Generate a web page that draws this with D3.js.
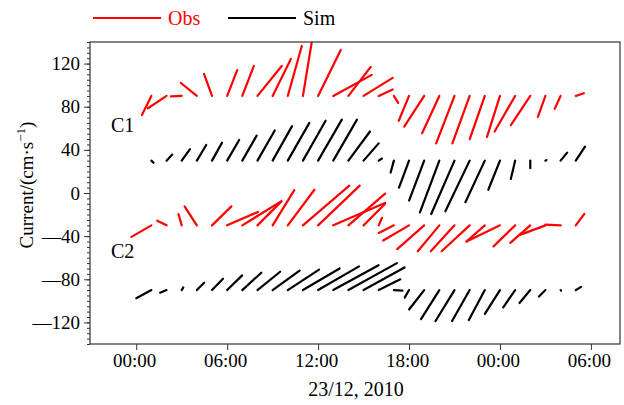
<!DOCTYPE html>
<html>
<head>
<meta charset="utf-8">
<script src="https://cdn.jsdelivr.net/npm/d3@7"></script>
<style>
  body { margin: 0; background: #fff; }
  svg { display: block; }
  text { font-family: "Liberation Serif", "Times New Roman", serif; }
</style>
</head>
<body>
<svg id="chart" width="624" height="405"></svg>
<script>
// Hourly current vectors (u east, v north, cm/s) at two stations, observed vs simulated.
// Time is hours after 00:00 on 23/12/2010.
const obsC1Hours = d3.range(1, 30);
const obsC1U = [-8.8, -17.2, -10, -14.8, -7.4, 9.3, 10.7, 22.5, 16.9, 13, 9, 21, 35.7, 20.7, 27, 13, 4, -9.5, -18.5, -16, -17, -16, -14, -12, -19, -18, -7, -5.5, 7.5];
const obsC1V = [-17.6, -11.4, -0.5, 12, 20.4, 24, 27.8, 27.8, 34.3, 46.3, 55, 42.6, 19.5, 26.9, 16.7, 6, -6.5, -23, -28.4, -34.6, -44, -44, -40, -38, -33, -27, -19.5, -12, 2.5];

const simC1Hours = d3.range(1, 30);
const simC1U = [2, 5.3, 7.7, 8.7, 9.3, 11.1, 13.3, 16, 18, 20, 21, 22, 22, 20, 14, 3, -3, -9.3, -14, -18, -21.6, -22.5, -18, -10.8, -4, 0, 1, 6.1, 8.6];
const simC1V = [-2, 5.6, 10.6, 14.5, 16.7, 19.2, 23.2, 28, 32, 35, 37, 38, 38, 27, 16, 2, -11, -25, -37, -48, -49.5, -47, -38.5, -27, -17, -7, 0.5, 7.4, 13];

const obsC2Hours = d3.range(1, 30);
const obsC2U = [-18.5, -8.6, -3, -11.4, 18, 28.5, 36.3, 22, 20.1, 24.7, 43, 38.6, 47.9, 34, 20, 3, -14, -24, -25, -20, -22, -26, -17, -31, -20, -18.5, -23, -14, 8];
const obsC2V = [-10.7, 4.3, 10.5, 17.6, 17.6, 12.4, 22.5, 22, 32.7, 33, 36.8, 36.8, 20.8, 29.4, 20, 7, -7, -14, -22, -24, -24, -24, -15, -15, -19.5, -16.3, -8.6, 0.6, 10.6];

const simC2Hours = d3.range(1, 30);
const simC2U = [-14, -6, 1.5, 6.8, 10.2, 13.9, 17.6, 21, 25, 29, 34, 38, 42, 45, 38, 20, 8, -4, -14, -17, -17.6, -16.3, -14.8, -14, -11, -10, -6, 0.5, 5];
const simC2V = [-7.5, -2.4, 2.5, 6.8, 10.5, 13.6, 16.1, 17, 18, 19, 20, 22, 23, 25, 21, 10, -0.5, -7, -18, -27, -28.7, -28.7, -27.8, -22, -16, -12, -6, -0.5, 3];

// Vertical offset (cm/s) used as the base line of each stick row
const rowOffsets = [90, 30, -30, -90];
const rowNames = ["C1", "C2"];

const yTicks = [-120, -80, -40, 0, 40, 80, 120];
const xTicks = [0, 6, 12, 18, 24, 30];
const xTickLabels = ["00:00", "06:00", "12:00", "18:00", "00:00", "06:00"];

const rows = [
  { hours: obsC1Hours, u: obsC1U, v: obsC1V, base: rowOffsets[0], color: "#ff0000" },
  { hours: simC1Hours, u: simC1U, v: simC1V, base: rowOffsets[1], color: "#000000" },
  { hours: obsC2Hours, u: obsC2U, v: obsC2V, base: rowOffsets[2], color: "#ff0000" },
  { hours: simC2Hours, u: simC2U, v: simC2V, base: rowOffsets[3], color: "#000000" }
];

const svg = d3.select("#chart");
const pLeft = 90, pRight = 620, pTop = 42, pBottom = 344;

const x = d3.scaleLinear().domain([-3.05, 31.92]).range([pLeft, pRight]);
const y = d3.scaleLinear().domain([-140, 140]).range([pBottom, pTop]);
// pixels per cm/s, shared by both vector components so stick angles stay true
const k = (y(0) - y(1));

svg.append("defs").append("clipPath").attr("id", "plotClip")
  .append("rect").attr("x", pLeft).attr("y", pTop).attr("width", pRight - pLeft).attr("height", pBottom - pTop);

const plot = svg.append("g").attr("clip-path", "url(#plotClip)");

rows.forEach(r => {
  plot.append("g").selectAll("line")
    .data(r.hours.map((h, i) => ({ h, u: r.u[i], v: r.v[i] })))
    .join("line")
    .attr("x1", d => x(d.h))
    .attr("y1", y(r.base))
    .attr("x2", d => x(d.h) + d.u * k)
    .attr("y2", d => y(r.base + d.v))
    .attr("stroke", r.color)
    .attr("stroke-width", 2.2)
    .attr("stroke-linecap", "round");
});

// frame
svg.append("rect").attr("x", pLeft).attr("y", pTop).attr("width", pRight - pLeft).attr("height", pBottom - pTop)
  .attr("fill", "none").attr("stroke", "#333").attr("stroke-width", 1.2);

// y axis: labelled ticks every 40, minor ticks every 5
svg.append("g").attr("transform", `translate(${pLeft},0)`)
  .call(d3.axisLeft(y).tickValues(d3.range(-140, 141, 5)).tickSize(3).tickFormat(""))
  .call(g => g.select(".domain").remove())
  .selectAll("line").attr("stroke", "#333");
const yAxis = svg.append("g").attr("transform", `translate(${pLeft},0)`)
  .call(d3.axisLeft(y).tickValues(yTicks).tickSize(6).tickPadding(4)
    .tickFormat(d => d < 0 ? "\u2014" + Math.abs(d) : d));
yAxis.select(".domain").remove();
yAxis.selectAll("line").attr("stroke", "#333");
yAxis.selectAll("text").attr("font-size", 19).attr("fill", "#000");

// x axis
const xAxis = svg.append("g").attr("transform", `translate(0,${pBottom})`)
  .call(d3.axisBottom(x).tickValues(xTicks).tickSize(6).tickPadding(4)
    .tickFormat((d, i) => xTickLabels[i]));
xAxis.select(".domain").remove();
xAxis.selectAll("line").attr("stroke", "#333");
xAxis.selectAll("text").attr("font-size", 19).attr("fill", "#000").attr("dx", -2);

svg.append("text").attr("x", (pLeft + pRight) / 2 + 1).attr("y", 396).attr("text-anchor", "middle")
  .attr("font-size", 20).text("23/12, 2010");

const yl = svg.append("text").attr("transform", `translate(33,${(pTop + pBottom) / 2 - 8}) rotate(-90)`)
  .attr("text-anchor", "middle").attr("font-size", 19);
yl.append("tspan").text("Current/(cm\u00b7s");
yl.append("tspan").attr("font-size", 13).attr("dy", -8).text("\u22121");
yl.append("tspan").attr("dy", 8).text(")");

// station labels
svg.append("text").attr("x", 111).attr("y", y(rowOffsets[0] - 33)).attr("font-size", 20).text(rowNames[0]);
svg.append("text").attr("x", 111).attr("y", y(rowOffsets[2] - 30)).attr("font-size", 20).text(rowNames[1]);

// legend
const legend = [{ name: "Obs", color: "#ff0000", x0: 93 }, { name: "Sim", color: "#000000", x0: 228 }];
legend.forEach(l => {
  svg.append("line").attr("x1", l.x0).attr("x2", l.x0 + 68).attr("y1", 18).attr("y2", 18)
    .attr("stroke", l.color).attr("stroke-width", 2.2);
  svg.append("text").attr("x", l.x0 + 75).attr("y", 25).attr("font-size", 20)
    .attr("fill", l.color).text(l.name);
});
</script>
</body>
</html>
